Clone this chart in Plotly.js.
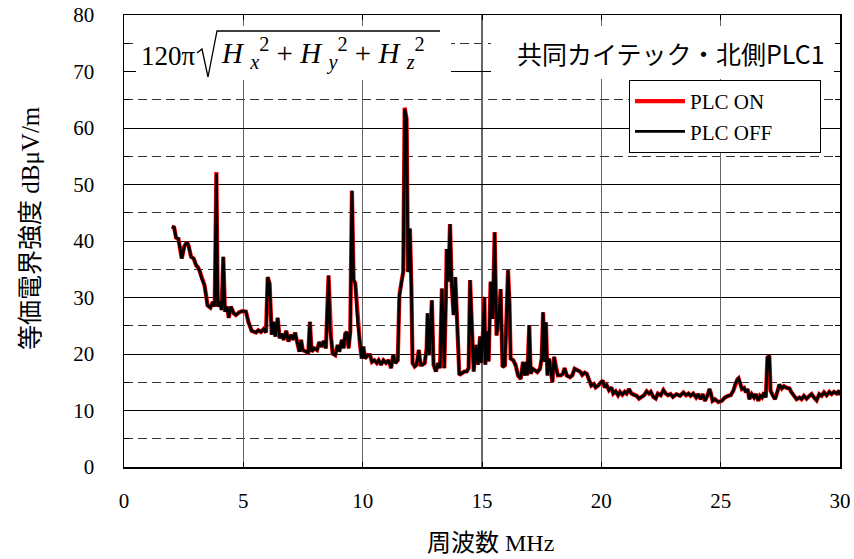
<!DOCTYPE html>
<html><head><meta charset="utf-8">
<script src="https://cdn.plot.ly/plotly-3.0.1.min.js"></script>
<style>html,body{margin:0;padding:0;background:#fff}#chart{width:854px;height:559px}</style>
</head><body><div id="chart"></div>
<script>
// Frequency (MHz)
const freqMHz = [
2.00,2.10,2.18,2.28,2.42,2.53,2.64,2.71,2.81,2.92,3.02,3.09,3.16,3.25,3.37,3.44,3.50,3.62,3.72,3.80,
3.87,3.93,4.04,4.09,4.16,4.23,4.32,4.39,4.48,4.60,4.69,4.83,4.97,5.11,5.21,5.35,5.53,5.63,5.74,5.85,
5.95,6.02,6.10,6.19,6.27,6.34,6.44,6.52,6.61,6.69,6.80,6.89,7.00,7.08,7.17,7.25,7.35,7.42,7.49,7.63,
7.72,7.79,7.86,7.97,8.09,8.18,8.28,8.37,8.46,8.57,8.63,8.68,8.74,8.85,8.95,9.02,9.13,9.20,9.27,9.34,
9.41,9.48,9.55,9.62,9.69,9.79,9.89,9.96,10.03,10.10,10.21,10.31,10.39,10.49,10.59,10.67,10.77,10.87,10.98,11.09,
11.19,11.28,11.37,11.47,11.54,11.65,11.70,11.76,11.84,11.90,11.98,12.04,12.09,12.18,12.26,12.35,12.43,12.51,12.60,12.68,
12.72,12.79,12.90,12.97,13.07,13.16,13.24,13.32,13.42,13.49,13.52,13.59,13.66,13.73,13.81,13.88,13.95,14.05,14.16,14.26,
14.36,14.44,14.50,14.58,14.65,14.75,14.83,14.92,14.97,15.03,15.10,15.14,15.20,15.28,15.36,15.45,15.53,15.61,15.70,15.78,
15.86,15.96,16.03,16.09,16.15,16.20,16.31,16.41,16.51,16.62,16.72,16.79,16.86,16.90,16.98,17.04,17.12,17.21,17.32,17.43,
17.50,17.56,17.62,17.68,17.74,17.81,17.88,17.95,18.02,18.10,18.18,18.30,18.39,18.46,18.55,18.69,18.78,18.88,18.99,19.11,
19.20,19.30,19.39,19.48,19.58,19.69,19.76,19.86,19.97,20.06,20.14,20.22,20.32,20.42,20.50,20.60,20.70,20.78,20.88,20.98,
21.06,21.16,21.26,21.37,21.48,21.58,21.68,21.79,21.90,22.00,22.07,22.18,22.28,22.37,22.49,22.60,22.70,22.79,22.90,23.00,
23.15,23.30,23.44,23.55,23.65,23.74,23.85,23.97,24.06,24.16,24.25,24.34,24.44,24.53,24.58,24.66,24.76,24.90,25.04,25.18,
25.32,25.42,25.53,25.60,25.70,25.75,25.81,25.89,25.98,26.06,26.13,26.20,26.30,26.40,26.48,26.58,26.65,26.73,26.82,26.89,
26.96,27.04,27.09,27.18,27.28,27.37,27.46,27.56,27.65,27.77,27.88,27.97,28.07,28.18,28.30,28.39,28.49,28.60,28.72,28.81,
28.91,29.02,29.13,29.23,29.33,29.44,29.55,29.65,29.75,29.86,29.97,30.00
];
// PLC ON (red)
const plcOn = [
42.5,42.4,40.6,40.4,36.9,39.1,39.8,39.1,37.2,36.9,35.7,35.4,34.8,33.4,32.2,30.4,28.6,28.2,29.2,28.4,
52.2,28.4,29.2,27.8,37.2,27.5,28.4,26.4,28.4,27.2,26.9,27.4,27.6,27.5,25.7,24.1,23.8,24.2,23.9,24.4,
23.8,33.6,32.5,23.4,25.7,23.1,26.4,22.8,23.6,22.5,24.1,22.2,23.4,22.5,23.8,22.2,20.4,22.5,20.7,20.4,
20.1,25.7,20.4,21.0,20.7,22.1,21.3,22.3,21.0,33.9,24.0,22.8,20.1,19.8,21.6,20.4,22.5,21.0,23.6,23.9,
21.0,23.9,48.9,33.1,32.5,25.7,21.6,19.2,21.3,19.2,19.8,19.8,18.6,18.9,18.4,18.9,18.1,18.9,18.4,18.9,
17.5,19.8,18.4,18.9,30.4,33.4,34.5,63.6,61.6,34.5,42.2,32.2,18.4,17.8,18.1,20.7,18.1,18.1,18.4,21.0,
27.2,19.8,29.5,18.1,16.9,18.4,17.5,31.6,17.5,30.4,38.6,32.8,43.0,32.2,26.9,33.6,26.6,16.3,16.6,16.9,
16.9,17.5,33.1,22.2,16.9,21.6,18.1,23.1,18.4,22.8,30.1,18.1,24.0,18.7,32.8,26.2,41.6,23.3,26.2,31.5,
17.7,18.0,29.8,34.8,29.2,19.2,18.9,18.0,16.2,15.6,18.6,16.2,18.6,16.2,25.1,16.5,17.4,17.1,16.8,17.4,
19.2,27.4,18.6,25.6,16.2,19.2,16.8,15.0,19.5,17.4,16.2,16.2,16.5,17.5,16.2,15.9,16.2,17.4,17.1,16.9,
16.3,16.7,16.5,15.3,14.4,14.7,14.1,14.4,15.0,15.3,14.1,14.5,13.6,14.1,13.0,13.4,12.7,13.3,12.8,13.3,
13.0,13.8,13.0,12.7,12.6,12.1,12.4,12.7,13.4,13.0,13.3,12.4,12.1,13.0,12.7,13.6,13.0,12.7,12.9,12.4,
12.9,12.6,13.2,12.7,13.0,12.6,13.0,12.3,12.9,12.0,12.9,11.7,12.6,13.8,13.2,11.7,12.0,11.5,11.7,12.3,
12.6,12.7,13.5,14.6,15.5,15.7,14.9,13.8,14.0,13.2,13.8,12.0,12.9,12.3,12.9,11.7,12.6,12.3,13.2,12.3,
19.4,19.7,13.5,12.6,12.0,13.2,14.6,13.9,14.3,14.0,13.9,13.2,12.6,12.0,12.3,12.0,12.6,12.1,12.6,12.9,
12.3,11.8,12.9,12.6,13.2,12.7,13.3,12.9,13.3,13.0,13.5,12.7
];
// PLC OFF (black)
const plcOff = [
42.5,42.4,40.6,40.4,36.9,39.1,39.8,39.1,37.2,36.9,35.7,35.4,34.8,33.4,32.2,30.4,28.6,28.2,29.2,28.4,
52.0,28.4,29.2,27.8,37.2,27.5,28.4,26.4,28.4,27.2,26.9,27.4,27.6,27.5,25.7,24.1,23.8,24.2,23.9,24.4,
23.8,33.6,32.5,23.4,25.7,23.1,26.4,22.8,23.6,22.5,24.1,22.2,23.4,22.5,23.8,22.2,20.4,22.5,20.7,20.4,
20.1,25.7,20.4,21.0,20.7,22.1,21.3,22.3,21.0,33.9,24.0,22.8,20.1,19.8,21.6,20.4,22.5,21.0,23.6,23.9,
21.0,23.9,48.9,33.1,32.5,25.7,21.6,19.2,21.3,19.2,19.8,19.8,18.6,18.9,18.4,18.9,18.1,18.9,18.4,18.9,
17.5,19.8,18.4,18.9,30.4,33.4,34.5,63.4,61.6,34.5,42.2,32.2,18.4,17.8,18.1,20.7,18.1,18.1,18.4,21.0,
27.2,19.8,29.5,18.1,16.9,18.4,17.5,31.6,17.5,30.4,38.6,32.8,43.0,32.2,26.9,33.6,26.6,16.3,16.6,16.9,
16.9,17.5,33.1,22.2,16.9,21.6,18.1,23.1,18.4,22.8,30.1,18.1,24.0,18.7,32.8,26.2,41.5,23.3,26.2,31.5,
17.7,18.0,29.8,34.8,29.2,19.2,18.9,18.0,16.2,15.6,18.6,16.2,18.6,16.2,25.1,16.5,17.4,17.1,16.8,17.4,
19.2,27.4,18.6,25.6,16.2,19.2,16.8,15.0,19.5,17.4,16.2,16.2,16.5,17.5,16.2,15.9,16.2,17.4,17.1,16.9,
16.3,16.7,16.5,15.3,14.4,14.7,14.1,14.4,15.0,15.3,14.1,14.5,13.6,14.1,13.0,13.4,12.7,13.3,12.8,13.3,
13.0,13.8,13.0,12.7,12.6,12.1,12.4,12.7,13.4,13.0,13.3,12.4,12.1,13.0,12.7,13.6,13.0,12.7,12.9,12.4,
12.9,12.6,13.2,12.7,13.0,12.6,13.0,12.3,12.9,12.0,12.9,11.7,12.6,13.8,13.2,11.7,12.0,11.5,11.7,12.3,
12.6,12.7,13.5,14.6,15.5,15.7,14.9,13.8,14.0,13.2,13.8,12.0,12.9,12.3,12.9,11.7,12.6,12.3,13.2,12.3,
19.4,19.7,13.5,12.6,12.0,13.2,14.6,13.9,14.3,14.0,13.9,13.2,12.6,12.0,12.3,12.0,12.6,12.1,12.6,12.9,
12.3,11.8,12.9,12.6,13.2,12.7,13.3,12.9,13.3,13.0,13.5,12.7
];
const seriesNames = ['PLC ON', 'PLC OFF'];
const xTickVals = [0, 5, 10, 15, 20, 25, 30];
const yTickVals = [0, 10, 20, 30, 40, 50, 60, 70, 80];
const boxLabel = '共同カイテック・北側PLC1';
const yTitle = '等価電界強度';
const yUnit = 'dBμV/m';
const xTitle = '周波数';
const xUnit = 'MHz';

// layout helpers: page pixel -> paper fraction (plot area 124..840 x 15..467)
const L = 124, R = 840, T = 15, B = 467;
const px = v => (v - L) / (R - L);
const py = v => (B - v) / (B - T);

const serif = '"Liberation Serif", "Times New Roman", serif';
const gothic = '"Noto Sans CJK JP", "Noto Sans", sans-serif';
const pad = '\u00a0\u00a0\u00a0\u00a0\u00a0\u00a0\u00a0\u00a0';

const traces = [
  {x: freqMHz, y: plcOn, name: seriesNames[0] + pad, type: 'scatter', mode: 'lines',
   line: {color: '#ff0000', width: 4.2}},
  {x: freqMHz, y: plcOff, name: seriesNames[1] + pad, type: 'scatter', mode: 'lines',
   line: {color: '#000000', width: 2.8}}
];

const radical = 'M' + px(197) + ',' + py(53) + ' L' + px(202) + ',' + py(49) +
  ' L' + px(208) + ',' + py(77) + ' L' + px(217) + ',' + py(31) + ' L' + px(440) + ',' + py(31);

const layout = {
  width: 854, height: 559,
  margin: {l: L, r: 854 - R, t: T, b: 559 - B},
  paper_bgcolor: '#fff', plot_bgcolor: '#fff',
  font: {family: serif, size: 21, color: '#000'},
  showlegend: true,
  legend: {x: px(629), y: py(80), xanchor: 'left', yanchor: 'top',
    bgcolor: '#fff', bordercolor: '#000', borderwidth: 1,
    font: {family: serif, size: 21, color: '#000'}, itemwidth: 50, tracegroupgap: 0},
  xaxis: {range: [0, 30], tickvals: xTickVals, ticks: 'inside', ticklen: 5, tickcolor: '#000',
    showgrid: true, gridcolor: '#666', gridwidth: 1.5, zeroline: false,
    showline: true, linecolor: '#000', linewidth: 1.5, mirror: 'ticks',
    tickfont: {family: serif, size: 21, color: '#000'}, ticklabelstandoff: 14},
  yaxis: {range: [0, 80], tickvals: yTickVals, ticks: 'inside', ticklen: 5, tickcolor: '#000',
    showgrid: true, gridcolor: '#000', gridwidth: 1, zeroline: false,
    showline: true, linecolor: '#000', linewidth: 1.5, mirror: 'ticks',
    minor: {dtick: 5, showgrid: true, griddash: '9px,5px', gridcolor: '#333', gridwidth: 1,
      ticks: 'inside', ticklen: 5, tickcolor: '#000'},
    tickfont: {family: serif, size: 21, color: '#000'}, ticklabelstandoff: 24},
  shapes: [
    {type: 'rect', xref: 'paper', yref: 'paper', x0: px(136), x1: px(451), y0: py(80), y1: py(26),
     fillcolor: '#fff', line: {width: 0}, layer: 'above'},
    {type: 'rect', xref: 'paper', yref: 'paper', x0: px(491), x1: px(834), y0: py(79), y1: py(26),
     fillcolor: '#fff', line: {width: 0}, layer: 'above'},
    {type: 'path', xref: 'paper', yref: 'paper', path: radical,
     line: {color: '#000', width: 1.3}, layer: 'above'}
  ],
  annotations: [
    {xref: 'paper', yref: 'paper', x: px(198), y: py(56), xanchor: 'right', yanchor: 'middle',
     showarrow: false, text: '120π', font: {family: serif, size: 27, color: '#000'}},
    {xref: 'paper', yref: 'paper', x: px(219), y: py(53), xanchor: 'left', yanchor: 'middle',
     showarrow: false,
     text: '<i>H</i>\u00a0<sub><i>x</i></sub><sup>2</sup>\u00a0+\u00a0<i>H</i>\u00a0<sub><i>y</i></sub><sup>2</sup>\u00a0+\u00a0<i>H</i>\u00a0<sub><i>z</i></sub><sup>2</sup>',
     font: {family: serif, size: 29, color: '#000'}},
    {xref: 'paper', yref: 'paper', x: px(671), y: py(53), xanchor: 'center', yanchor: 'middle',
     showarrow: false, text: boxLabel, font: {family: gothic, size: 25, color: '#000'}},
    {xref: 'paper', yref: 'paper', x: px(28), y: py(228), xanchor: 'center', yanchor: 'middle',
     showarrow: false, textangle: -90,
     text: '<span style="font-family:Noto Sans CJK JP">' + yTitle + '</span> ' + yUnit,
     font: {family: serif, size: 25, color: '#000'}},
    {xref: 'paper', yref: 'paper', x: px(490), y: py(540), xanchor: 'center', yanchor: 'middle',
     showarrow: false,
     text: '<span style="font-family:Noto Sans CJK JP">' + xTitle + '</span> ' + xUnit,
     font: {family: serif, size: 24, color: '#000'}}
  ]
};

Plotly.newPlot('chart', traces, layout, {staticPlot: true, displayModeBar: false});
</script>
</body></html>
